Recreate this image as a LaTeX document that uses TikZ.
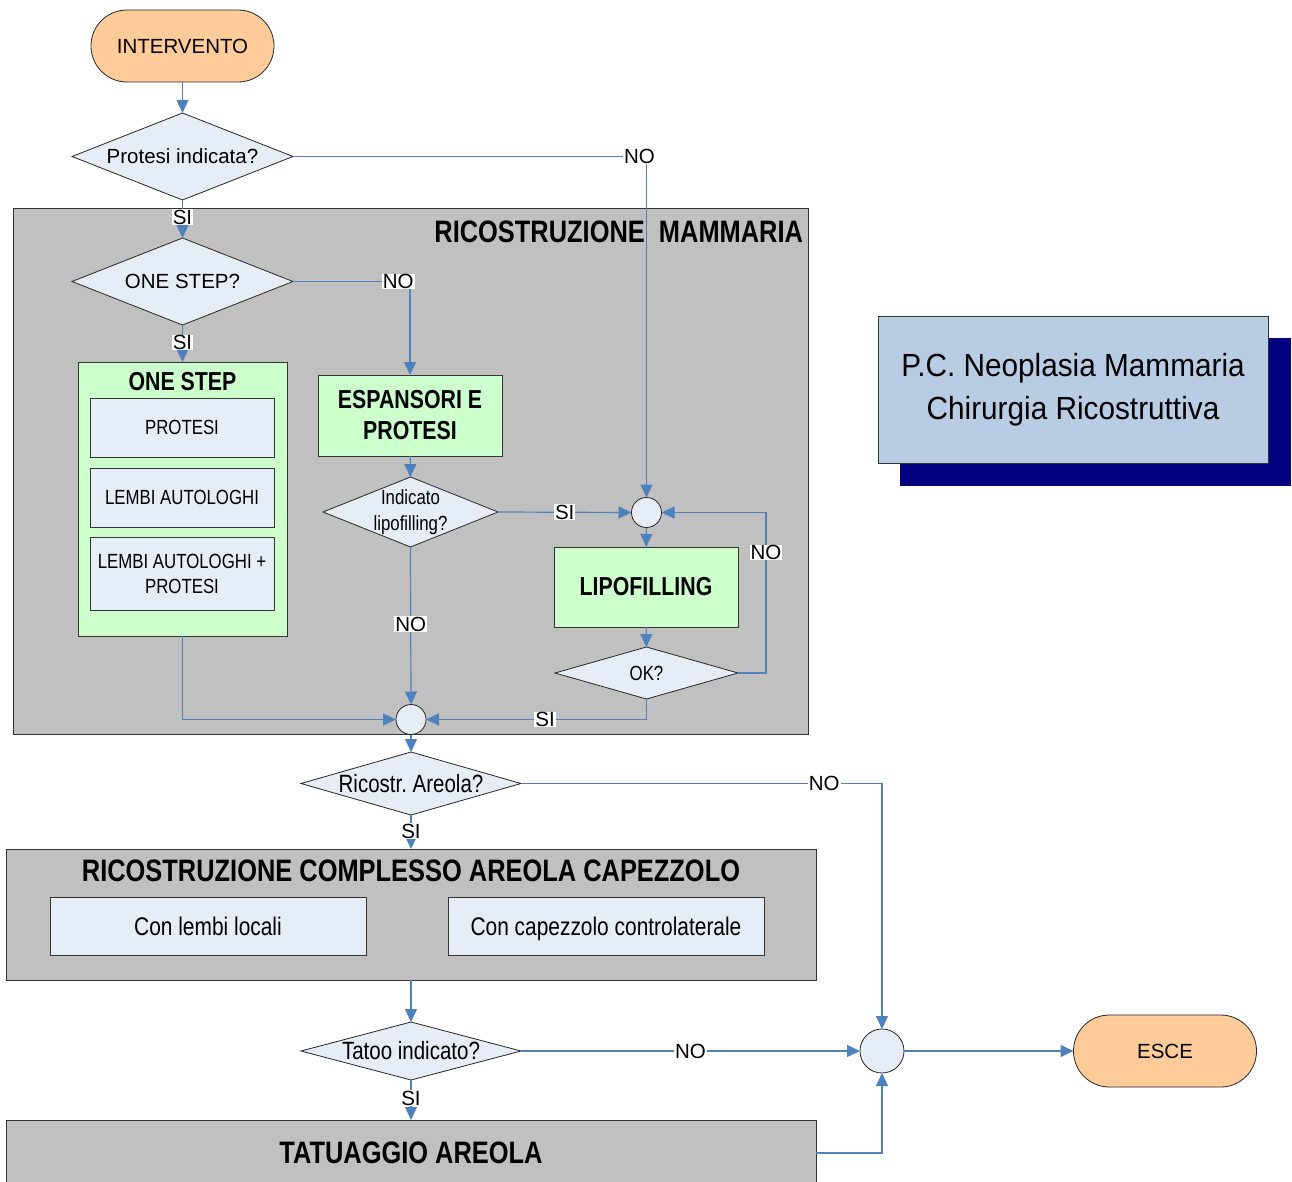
\documentclass[tikz,border=0pt]{standalone}
\usepackage{fontspec}
\setmainfont{Liberation Sans}
\newfontfamily\nar[FakeStretch=0.82]{Liberation Sans}
\newfontfamily\ttl[FakeStretch=0.93]{Liberation Sans}
\usetikzlibrary{shapes.geometric,arrows.meta}
\definecolor{peach}{HTML}{FFCC99}
\definecolor{panel}{HTML}{C0C0C0}
\definecolor{mint}{HTML}{CCFFCC}
\definecolor{pale}{HTML}{E7EDF7}
\definecolor{flow}{HTML}{4F81BD}
\definecolor{steel}{HTML}{B8CCE4}
\definecolor{navy}{HTML}{000080}
\frenchspacing
\begin{document}
\begin{tikzpicture}[x=1pt,y=-1pt,
  every node/.style={inner sep=0pt,outer sep=0pt},
  reg/.style={font=\fontsize{20.5}{24}\selectfont},
  term/.style={reg,draw=black!85,line width=0.8pt,fill=peach,rounded corners=35.9pt,
    minimum width=183pt,minimum height=72pt},
  dec/.style={diamond,draw=black!85,line width=0.8pt,fill=pale,align=center,
    inner xsep=0pt,inner ysep=-6pt},
  capsm/.style={text height=14.7pt,text depth=0pt},
  caplg/.style={text height=18.3pt,text depth=0pt},
  junc/.style={circle,draw=black!85,line width=0.8pt,fill=pale},
  panelbox/.style={draw=black!80,line width=0.9pt,fill=panel},
  greenbox/.style={draw=black!80,line width=0.8pt,fill=mint,align=center,
    font=\nar\bfseries\fontsize{26}{31}\selectfont},
  item/.style={draw=black!80,line width=0.8pt,fill=pale,align=center},
  heading/.style={font=\nar\bfseries\fontsize{31}{36}\selectfont},
  conn/.style={draw=flow,line width=1.2pt,-{Triangle[length=13pt,width=12pt]}},
  lbl/.style={reg,fill=white,inner xsep=1pt,inner ysep=0.5pt,text=black}]
\clip (0,0) rectangle (1292,1182);
\path[use as bounding box] (0,0) rectangle (1292,1182);

% panels
\node[panelbox,minimum width=795pt,minimum height=526pt] (mamm) at (410.5,471) {};
\node[heading,anchor=east] (mammt) at (803,232) {RICOSTRUZIONE\ \ MAMMARIA};
\node[panelbox,minimum width=810pt,minimum height=131pt] (acbox) at (411,914.5) {};
\node[heading] (acbt) at (411,871) {RICOSTRUZIONE COMPLESSO AREOLA CAPEZZOLO};
\node[panelbox,minimum width=810pt,minimum height=66pt] (tatbox) at (411,1153) {};
\node[heading] (tatt) at (411,1153) {TATUAGGIO AREOLA};

% title card with shadow
\node[fill=navy,minimum width=391pt,minimum height=148pt] (shadow) at (1095.5,412) {};
\node[draw=black!80,line width=0.8pt,fill=steel,minimum width=390pt,minimum height=147pt,
  align=center,font=\ttl\fontsize{32}{43}\selectfont] (card) at (1073,389.5)
  {P.C. Neoplasia Mammaria\\Chirurgia Ricostruttiva};

% terminals
\node[term] (int) at (182.5,46) {INTERVENTO};
\node[term] (esce) at (1165,1051) {ESCE};

% decisions
\node[dec,reg,aspect=2.54,minimum width=221pt,minimum height=87pt] (prot) at (182.5,156.5) {Protesi indicata?};
\node[dec,reg,aspect=2.54,minimum width=221pt,minimum height=87pt] (one) at (182.5,281.5) {ONE STEP?};
\node[dec,font=\nar\fontsize{20.5}{26}\selectfont,aspect=2.5,minimum width=175pt,minimum height=70pt] (lipoq) at (410.5,512) {Indicato\\lipofilling?};
\node[dec,font=\nar\fontsize{20.5}{24}\selectfont,aspect=3.5,minimum width=183pt,minimum height=52pt] (okq) at (646.5,673) {OK?};
\node[dec,font=\nar\fontsize{25}{30}\selectfont,aspect=3.5,minimum width=220pt,minimum height=63pt] (ric) at (411,783.5) {Ricostr. Areola?};
\node[dec,font=\nar\fontsize{25}{30}\selectfont,aspect=3.8,minimum width=220pt,minimum height=58pt] (tat) at (411,1051) {Tatoo indicato?};

% one-step group
\node[draw=black!80,line width=0.8pt,fill=mint,minimum width=209pt,minimum height=274pt] (osbox) at (182.5,499) {};
\node[font=\nar\bfseries\fontsize{26}{31}\selectfont] (ost) at (182.5,382) {ONE STEP};
\node[item,capsm,font=\nar\fontsize{20.5}{25}\selectfont,minimum width=184pt,minimum height=59pt] (pr) at (182,427.5) {PROTESI};
\node[item,capsm,font=\nar\fontsize{20.5}{25}\selectfont,minimum width=184pt,minimum height=59pt] (la) at (182,497.5) {LEMBI AUTOLOGHI};
\node[item,font=\nar\fontsize{20.5}{25}\selectfont,minimum width=184pt,minimum height=73pt] (lap) at (182,573.5) {LEMBI AUTOLOGHI +\\PROTESI};

% procedures
\node[greenbox,minimum width=184pt,minimum height=81pt] (esp) at (410,415.5) {ESPANSORI E\\PROTESI};
\node[greenbox,minimum width=184pt,minimum height=80pt] (lipo) at (646,587) {LIPOFILLING};
\node[item,caplg,font=\nar\fontsize{25.5}{30}\selectfont,minimum width=316pt,minimum height=58pt] (ll) at (208,926) {Con lembi locali};
\node[item,caplg,font=\nar\fontsize{25.5}{30}\selectfont,minimum width=316pt,minimum height=58pt] (cc) at (606,926) {Con capezzolo controlaterale};

% junctions
\node[junc,minimum size=30pt] (c1) at (646.5,512.5) {};
\node[junc,minimum size=30pt] (c2) at (411,719.5) {};
\node[junc,minimum size=44pt] (c3) at (882,1051) {};
\coordinate (okr) at (766,673);

% connectors
\draw[conn] (int) -- (prot);
\draw[conn] (prot.east) -| node[lbl,pos=0.49] {NO} (c1);
\draw[conn] (prot.south) -- node[lbl,pos=0.45] {SI} (one.north);
\draw[conn] (one.east) -| node[lbl,pos=0.45] {NO} (esp);
\draw[conn] (one.south) -- node[lbl,pos=0.47] {SI} (osbox.north);
\draw[conn] (esp) -- (lipoq);
\draw[conn] (lipoq.east) -- node[lbl,pos=0.5] {SI} (c1.west);
\draw[conn] (c1) -- (lipo);
\draw[conn] (lipo) -- (okq);
\draw[conn] (okq.east) -- (okr) |- node[lbl,pos=0.375] {NO} (c1.east);
\draw[conn] (okq.south) |- node[lbl,pos=0.73] {SI} (c2.east);
\draw[conn] (lipoq.south) -- node[lbl,pos=0.49] {NO} (c2.north);
\draw[conn] (osbox.south) |- (c2.west);
\draw[conn] (c2) -- (ric);
\draw[conn] (ric.east) -| node[lbl,pos=0.42] {NO} (c3.north);
\draw[conn] (ric.south) -- node[lbl,pos=0.47] {SI} (acbox.north);
\draw[conn] (acbox.south) -- (tat);
\draw[conn] (tat.east) -- node[lbl,pos=0.5] {NO} (c3.west);
\draw[conn] (tat.south) -- node[lbl,pos=0.45] {SI} (tatbox.north);
\draw[conn] (tatbox.east) -| (c3.south);
\draw[conn] (c3) -- (esce);
\end{tikzpicture}
\end{document}
